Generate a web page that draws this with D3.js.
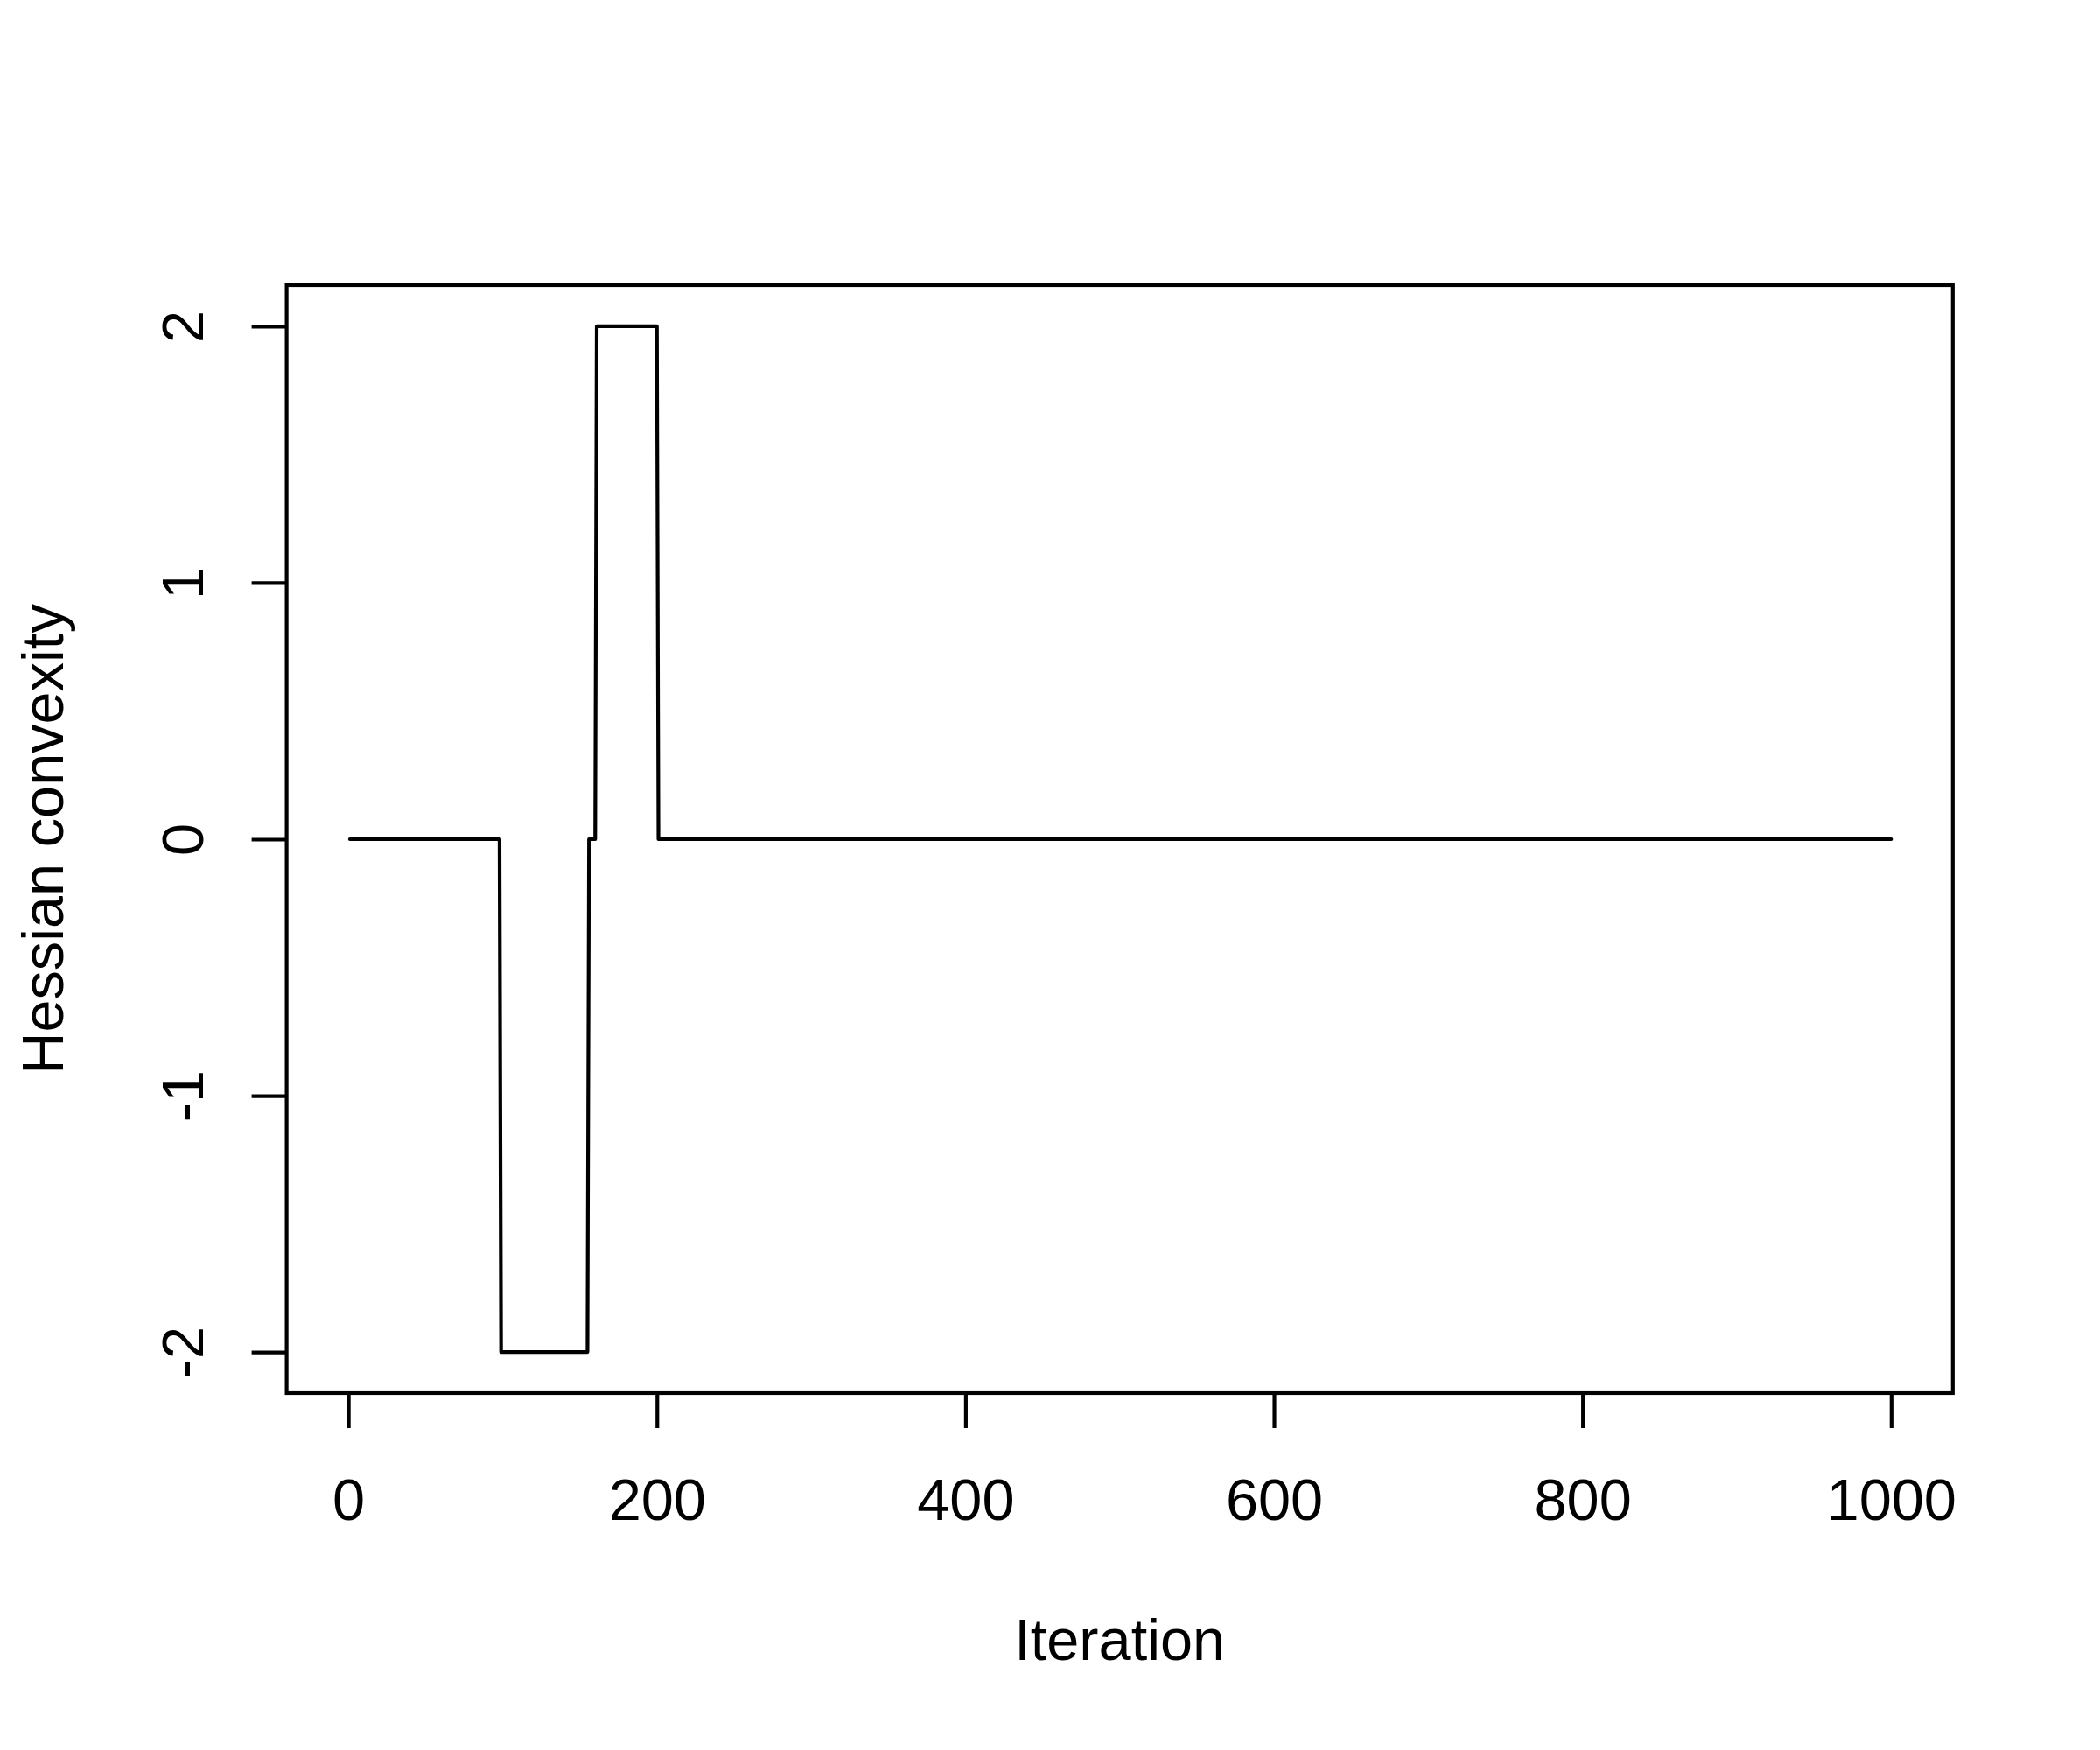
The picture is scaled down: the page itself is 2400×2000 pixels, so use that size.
<!DOCTYPE html>
<html>
<head>
<meta charset="utf-8">
<script src="https://cdn.jsdelivr.net/npm/d3@7"></script>
<style>
  body { margin: 0; background: #fff; }
  svg text { font-family: "Liberation Sans", Arial, Helvetica, sans-serif; fill: #000; }
</style>
</head>
<body>
<svg width="2400" height="2000"></svg>
<script>
// **** data: vertices of the step line (iteration, hessian convexity) ****
var iterations = [1, 98, 99, 155, 156, 160, 161, 200, 201, 1000];
var convexity  = [0, 0, -2, -2, 0, 0, 2, 2, 0, 0];

var xTicks = [0, 200, 400, 600, 800, 1000];
var yTicks = [-2, -1, 0, 1, 2];

var xTitle = "Iteration";
var yTitle = "Hessian convexity";

// **** layout ****
var boxLeft = 327.6, boxRight = 2231.8, boxTop = 326, boxBottom = 1592;
var lw = 4.17;
var fontSize = 66.7;

var svg = d3.select('svg');

// R style: data range padded by 4% on each side
var xScale = d3.scaleLinear()
    .domain([-40, 1040]).range([boxLeft, boxRight]);

var yScale = d3.scaleLinear()
    .domain([-2.16, 2.16]).range([boxBottom, boxTop]);

// the line
var points = iterations.map(function (d, i) { return [d, convexity[i]]; });

var line = d3.line()
    .x(function (d) { return xScale(d[0]); })
    .y(function (d) { return yScale(d[1]); });

svg.append('path')
    .datum(points)
    .attr('d', line)
    .attr('fill', 'none')
    .attr('stroke', '#000')
    .attr('stroke-width', lw)
    .attr('stroke-linejoin', 'round')
    .attr('stroke-linecap', 'round');

// x axis
var xAxis = svg.append('g').attr('class', 'x axis')
    .attr('transform', 'translate(0,' + boxBottom + ')')
    .call(d3.axisBottom(xScale).tickValues(xTicks).tickSize(40).tickFormat(d3.format('d')));

xAxis.select('.domain').remove();
xAxis.selectAll('line').attr('stroke', '#000').attr('stroke-width', lw);
xAxis.selectAll('text')
    .attr('y', 145)
    .attr('dy', null)
    .style('font-size', fontSize + 'px');

// y axis
var yAxis = svg.append('g').attr('class', 'y axis')
    .attr('transform', 'translate(' + boxLeft + ',0)')
    .call(d3.axisLeft(yScale).tickValues(yTicks).tickSize(40).tickFormat(d3.format('d')));

yAxis.select('.domain').remove();
yAxis.selectAll('line').attr('stroke', '#000').attr('stroke-width', lw);
yAxis.selectAll('text')
    .attr('x', null)
    .attr('dy', null)
    .attr('text-anchor', 'middle')
    .attr('transform', 'translate(-95.6,0) rotate(-90)')
    .text(function (d) { return d < 0 ? '-' + Math.abs(d) : d; })
    .style('font-size', fontSize + 'px');

// plot box
svg.append('rect')
    .attr('x', boxLeft)
    .attr('y', boxTop)
    .attr('width', boxRight - boxLeft)
    .attr('height', boxBottom - boxTop)
    .attr('fill', 'none')
    .attr('stroke', '#000')
    .attr('stroke-width', lw);

// axis titles
svg.append('text')
    .attr('x', (boxLeft + boxRight) / 2)
    .attr('y', 1897)
    .attr('text-anchor', 'middle')
    .style('font-size', fontSize + 'px')
    .text(xTitle);

svg.append('text')
    .attr('transform', 'translate(72,' + (boxTop + boxBottom) / 2 + ') rotate(-90)')
    .attr('text-anchor', 'middle')
    .style('font-size', fontSize + 'px')
    .text(yTitle);
</script>
</body>
</html>
